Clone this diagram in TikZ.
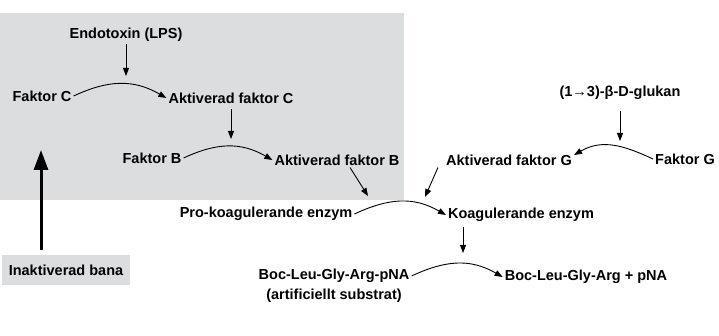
\documentclass[tikz,border=0pt]{standalone}
\usepackage{fontspec}
\setmainfont{Liberation Sans}
\usetikzlibrary{arrows.meta}
\definecolor{pathgray}{RGB}{220,221,223}
\begin{document}
\begin{tikzpicture}[x=1pt, y=-1pt,
        txt/.style={inner sep=2pt, font=\fontsize{14.5}{17}\selectfont\bfseries},
        arr/.style={line width=0.9pt, -{Triangle[length=8pt,width=6pt]}},
        reaction/.style={arr, looseness=1.05},
        bigarrow/.style={line width=3pt, -{Triangle[length=20pt,width=14pt]}}]
        \useasboundingbox (0,0) rectangle (719,336);
        \fill[pathgray] (0,13) rectangle (404,200);
        \node[txt] (endo) at (126,35) {Endotoxin (LPS)};
        \node[txt] (fc) at (42,96) {Faktor C};
        \node[txt] (afc) at (231,98) {Aktiverad faktor C};
        \node[txt] (fb) at (152,158) {Faktor B};
        \node[txt] (afb) at (337,160) {Aktiverad faktor B};
        \node[txt] (pro) at (266,214) {Pro-koagulerande enzym};
        \node[txt] (koag) at (521,215) {Koagulerande enzym};
        \node[txt] (boc) at (334,276) {Boc-Leu-Gly-Arg-pNA};
        \node[txt] (sub) at (334,296) {(artificiellt substrat)};
        \node[txt] (prod) at (586,277) {Boc-Leu-Gly-Arg + pNA};
        \node[txt] (glu) at (620,93) {(1→3)-β-D-glukan};
        \node[txt, anchor=west] (fg) at (653,159) {Faktor G};
        \node[txt] (afg) at (509,160) {Aktiverad faktor G};
        \node[txt, fill=pathgray, minimum width=128pt, minimum height=30pt] (inak) at (66,270) {Inaktiverad bana};
        \coordinate (c1) at (126,76);
        \coordinate (c2) at (231,139);
        \coordinate (c3) at (368,196);
        \coordinate (c4) at (425,197);
        \coordinate (c5) at (463,253);
        \coordinate (c6) at (620,141);
        \coordinate (c7) at (41,150);
        \draw[arr] (endo.south) -- (c1);
        \draw[arr] (afc.south) ++(0,3) -- (c2);
        \draw[arr] ([xshift=13pt]afb.south) -- (c3);
        \draw[arr] ([xshift=-6pt]afg.south west) -- (c4);
        \draw[arr] (c5 |- koag.south) ++(0,3) -- (c5);
        \draw[arr] (glu.south) ++(0,9) -- (c6);
        \draw[reaction] (fc.east) to[out=25, in=150] (afc.west);
        \draw[reaction] (fb.east) to[out=25, in=150] (afb.west);
        \draw[reaction] (pro.east) to[out=25, in=150] (koag.west);
        \draw[reaction] (boc.east) to[out=25, in=150] (prod.west);
        \draw[reaction] (fg.west) to[out=155, in=30] ([yshift=5pt]afg.east);
        \draw[bigarrow] (c7 |- inak.north) ++(0,-5) -- (c7);
\end{tikzpicture}
\end{document}
